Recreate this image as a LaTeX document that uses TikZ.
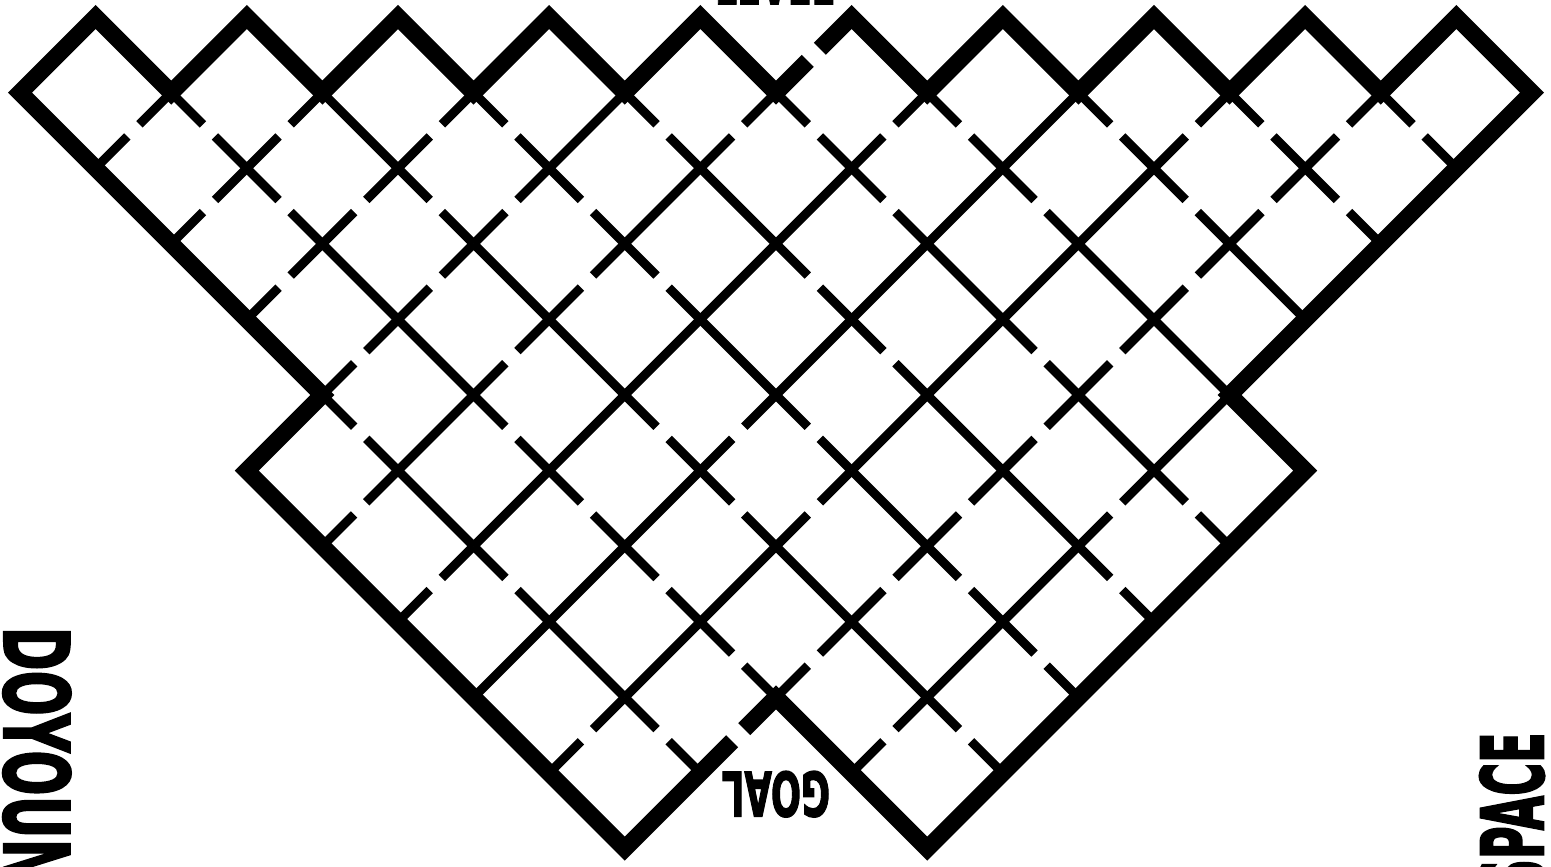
\documentclass[tikz,border=0pt]{standalone}
\usepackage{fontspec}
\setmainfont{DejaVu Sans}
\newfontfamily\signfont{DejaVu Sans}[UprightFont={* Bold}, FakeBold=2.5]
\usepackage{tikz}
\usetikzlibrary{calc}
\definecolor{ink}{HTML}{000000}
\tikzset{
  wall/.style  = {draw=ink, line width=9pt, line cap=butt},
  rim/.style   = {draw=ink, line width=17pt, line join=miter, line cap=butt},
  tag/.style   = {inner sep=0pt, text=ink},
}
\newcommand{\stublen}{0.42}

\begin{document}
\begin{tikzpicture}[x=75.6pt, y=-75.6pt]
  % lattice point (0,0) sits 20px right and 17px down from the corner
  \useasboundingbox ({-20/75.6},{-17/75.6}) rectangle ({1531/75.6},{850/75.6});

  % closed walls, down-right
  \foreach \c/\r in {5/6, 7/8, 4/3, 5/4, 4/1, 6/3, 7/4, 10/7, 11/8, 9/4,
                     11/6, 9/2, 12/5, 13/6, 12/3, 14/5, 14/3, 15/4, 16/3}
    \draw[wall] (\c,\r) -- ++(1,1);
  % closed walls, up-right
  \foreach \c/\r in {7/2, 5/6, 8/3, 6/7, 7/6, 8/5, 9/4, 10/3, 6/9, 7/8, 8/7,
                     10/5, 11/4, 12/3, 13/2, 8/9, 9/8, 11/6, 12/5, 13/4,
                     14/3, 12/9, 13/8, 15/6}
    \draw[wall] (\c,\r) -- ++(1,-1);

  % open walls (two stubs), down-right
  \foreach \c/\r in {4/5, 6/7, 8/9, 2/1, 3/2, 6/5, 7/6, 8/7, 9/8, 5/2, 8/5,
                     9/6, 12/9, 6/1, 7/2, 8/3, 10/5, 12/7, 13/8, 8/1, 10/3,
                     11/4, 14/7, 10/1, 11/2, 13/4, 15/6, 12/1, 13/2, 14/1,
                     15/2, 16/1, 17/2, 18/1} {
    \draw[wall] (\c,\r) -- ++(\stublen,\stublen);
    \draw[wall] ({\c+1},{\r+1}) -- ++(-\stublen,-\stublen);
  }
  % open walls (two stubs), up-right
  \foreach \c/\r in {1/2, 2/3, 3/2, 3/4, 4/3, 5/2, 4/5, 5/4, 6/3, 4/7, 6/5,
                     7/4, 9/2, 5/8, 11/2, 9/6, 7/10, 10/7, 15/2, 10/9, 11/8,
                     12/7, 13/6, 14/5, 15/4, 16/3, 17/2, 11/10, 14/7} {
    \draw[wall] (\c,\r) -- ++(\stublen,-\stublen);
    \draw[wall] ({\c+1},{\r-1}) -- ++(-\stublen,\stublen);
  }

  % outer rim, broken at the entry (top) and the exit (bottom)
  \draw[rim] (9.58,9.42) -- (10,9) -- (12,11) -- (17,6) -- (16,5) -- (20,1)
    -- (19,0) -- (18,1) -- (17,0) -- (16,1) -- (15,0) -- (14,1) -- (13,0)
    -- (12,1) -- (11,0) -- (10.58,0.42);
  \draw[rim] (10.42,0.58) -- (10,1) -- (9,0) -- (8,1) -- (7,0) -- (6,1)
    -- (5,0) -- (4,1) -- (3,0) -- (2,1) -- (1,0) -- (0,1) -- (4,5) -- (3,6)
    -- (8,11) -- (9,10) -- (9.42,9.58);

  % words round the maze
  \node[tag, font=\signfont\fontsize{60}{60}\selectfont, anchor=base]
    (level) at (9.98,-0.17) {\scalebox{0.58}[1]{LEVEL}};
  \node[tag, font=\signfont\fontsize{61}{61}\selectfont, rotate=180]
    (goal) at (10,10.28) {\scalebox{0.58}[1]{GOAL}};
  \node[tag, font=\signfont\fontsize{90}{90}\selectfont, rotate=-90, anchor=base west]
    (askleft) at (-0.21,8.06) {\scalebox{0.59}[1]{DOYOUNEED}};
  \node[tag, font=\signfont\fontsize{86}{86}\selectfont, rotate=90, anchor=base east]
    (spaceright) at (20.15,9.46) {\scalebox{0.52}[1]{SPACE}};
\end{tikzpicture}
\end{document}
